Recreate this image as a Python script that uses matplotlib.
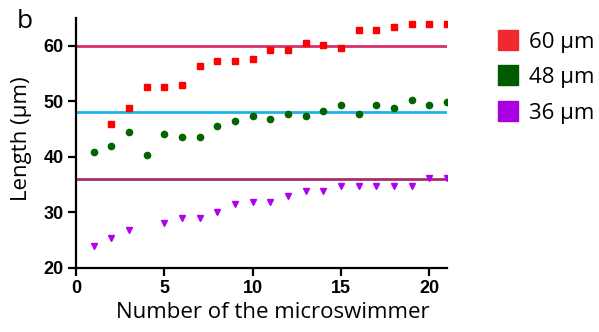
import matplotlib
matplotlib.use('Agg')
import matplotlib.pyplot as plt
from matplotlib.lines import Line2D

# values
x_60 = [2, 3, 4, 5, 6, 7, 8, 9, 10, 11, 12, 13, 14, 15, 16, 17, 18, 19, 20, 21]
y_60 = [46.0, 48.8, 52.6, 52.6, 53.0, 56.4, 57.3, 57.3, 57.7, 59.2, 59.2, 60.5, 60.1, 59.6,
        62.9, 62.9, 63.4, 63.9, 63.9, 63.9]

x_48 = list(range(1, 22))
y_48 = [40.8, 41.9, 44.5, 40.3, 44.1, 43.6, 43.6, 45.5, 46.5, 47.4, 46.9, 47.8, 47.4, 48.3,
        49.3, 47.8, 49.3, 48.8, 50.2, 49.3, 49.8]

x_36 = [1, 2, 3, 5, 6, 7, 8, 9, 10, 11, 12, 13, 14, 15, 16, 17, 18, 19, 20, 21]
y_36 = [23.9, 25.3, 26.7, 28.1, 29.0, 29.0, 30.0, 31.4, 31.9, 31.9, 32.9, 33.8, 33.8, 34.7,
        34.7, 34.7, 34.7, 34.7, 36.2, 36.2]

target_lengths = [60, 48, 36]
legend_labels = ['60 µm', '48 µm', '36 µm']

LINE_COLORS = ['#d9306a', '#1fb2e6', '#a3306e']
MARKER_COLORS = ['#ff0000', '#006400', '#b000f0']
LEGEND_COLORS = ['#ee2a2f', '#005a00', '#a800e0']

TICK_FONT = {'family': 'Liberation Sans', 'weight': 'bold', 'size': 13}
LABEL_FONT = {'family': 'Open Sans', 'size': 16}

fig = plt.figure(figsize=(5.99, 3.32), dpi=100)
ax = fig.add_axes([0.127, 0.194, 0.619, 0.751])

for value, color in zip(target_lengths, LINE_COLORS):
    ax.plot([0, 21], [value, value], color=color, linewidth=2, zorder=1)

ax.plot(x_60, y_60, linestyle='none', marker='s', markersize=4.5, color=MARKER_COLORS[0], zorder=3)
ax.plot(x_48, y_48, linestyle='none', marker='o', markersize=4.5, color=MARKER_COLORS[1], zorder=3)
ax.plot(x_36, y_36, linestyle='none', marker='v', markersize=4.5, color=MARKER_COLORS[2], zorder=3)

ax.set_xlim(0, 21)
ax.set_ylim(20, 65)
ax.set_xticks([0, 5, 10, 15, 20])
ax.set_yticks([20, 30, 40, 50, 60])

for side in ['top', 'right']:
    ax.spines[side].set_visible(False)
for side in ['left', 'bottom']:
    ax.spines[side].set_linewidth(1.6)

ax.tick_params(width=1.6, length=6, direction='out', pad=3)
for label in ax.get_xticklabels() + ax.get_yticklabels():
    label.set_fontfamily(TICK_FONT['family'])
    label.set_fontweight(TICK_FONT['weight'])
    label.set_fontsize(TICK_FONT['size'])

ax.set_xlabel('Number of the microswimmer', **LABEL_FONT)
ax.set_ylabel('Length (µm)', **LABEL_FONT)
ax.xaxis.set_label_coords(0.53, -0.14)
ax.yaxis.set_label_coords(-0.118, 0.515)

fig.text(0.028, 0.935, 'b', fontsize=19, family='Open Sans', va='center', ha='left')

handles = [Line2D([], [], linestyle='none', marker='s', markersize=15, color=c) for c in LEGEND_COLORS]
fig.legend(handles, legend_labels, loc='upper left', bbox_to_anchor=(0.792, 0.965), frameon=False,
           prop={'family': 'Open Sans', 'size': 16}, handletextpad=0.35, labelspacing=0.65, handlelength=1.2)

plt.savefig('out.png', dpi=100)
